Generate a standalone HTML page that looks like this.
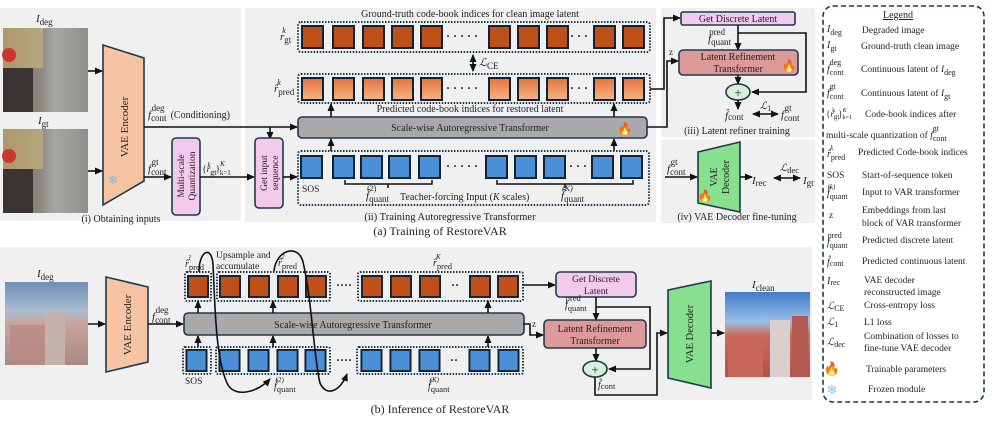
<!DOCTYPE html>
<html><head><meta charset="utf-8"><style>
html,body{margin:0;padding:0;background:#fff}
svg{display:block;font-family:"Liberation Serif",serif}
</style></head><body>
<svg width="997" height="426" viewBox="0 0 997 426" xmlns="http://www.w3.org/2000/svg" font-size="10" fill="#222">
<defs>
<marker id="ah" markerWidth="8" markerHeight="8" refX="7" refY="4" orient="auto" markerUnits="userSpaceOnUse"><path d="M0,0.5 L8,4 L0,7.5 Z" fill="#111"/></marker>
<marker id="ah2" markerWidth="8" markerHeight="8" refX="1" refY="4" orient="auto" markerUnits="userSpaceOnUse"><path d="M8,0.5 L0,4 L8,7.5 Z" fill="#111"/></marker>
<linearGradient id="og" x1="0" y1="0" x2="0" y2="1"><stop offset="0" stop-color="#e3733a"/><stop offset="1" stop-color="#f6b48a"/></linearGradient>
<linearGradient id="street" x1="0" y1="0" x2="1" y2="0"><stop offset="0" stop-color="#6c5a48"/><stop offset="0.45" stop-color="#8d8a84"/><stop offset="0.6" stop-color="#a7a7a2"/><stop offset="1" stop-color="#8e908c"/></linearGradient>
<linearGradient id="city" x1="0" y1="0" x2="0" y2="1"><stop offset="0" stop-color="#6f8fb5"/><stop offset="0.35" stop-color="#a9bcd0"/><stop offset="0.5" stop-color="#c9a49c"/><stop offset="1" stop-color="#a98a80"/></linearGradient>
<linearGradient id="city2" x1="0" y1="0" x2="0" y2="1"><stop offset="0" stop-color="#3f7cc8"/><stop offset="0.35" stop-color="#9cc0e6"/><stop offset="0.5" stop-color="#c96d5e"/><stop offset="1" stop-color="#b4504a"/></linearGradient>
<symbol id="so" viewBox="0 0 23 24"><rect x="1" y="1" width="21" height="22" fill="#c0501a" stroke="#123" stroke-width="2"/></symbol>
<symbol id="sg" viewBox="0 0 23 24"><rect x="1" y="1" width="21" height="22" fill="url(#og)" stroke="#123" stroke-width="2"/></symbol>
<symbol id="sb" viewBox="0 0 23 24"><rect x="1" y="1" width="21" height="22" fill="#4a90d9" stroke="#123" stroke-width="2"/></symbol>
</defs>

<!-- panel backgrounds -->
<rect x="0" y="8" width="241" height="213" fill="#f0f0f0"/>
<rect x="245" y="8" width="411" height="214" fill="#f0f0f0"/>
<rect x="661" y="8" width="154" height="129" fill="#f0f0f0"/>
<rect x="661" y="140" width="154" height="83" fill="#f0f0f0"/>
<rect x="0" y="247" width="812" height="153" fill="#f0f0f0"/>

<!-- Panel (i) -->
<text x="36" y="22" font-style="italic" font-size="11">I<tspan font-style="normal" font-size="9" dy="3">deg</tspan></text>
<rect x="3" y="28" width="85" height="84" fill="url(#street)"/>
<rect x="3" y="28" width="40" height="40" fill="#c9b27a" opacity="0.7"/>
<rect x="3" y="68" width="30" height="44" fill="#3a3532"/>
<circle cx="9" cy="55" r="7" fill="#c33" />
<text x="38" y="124" font-style="italic" font-size="11">I<tspan font-style="normal" font-size="9" dy="3">gt</tspan></text>
<rect x="3" y="129" width="85" height="84" fill="url(#street)"/>
<rect x="3" y="129" width="40" height="40" fill="#c9b27a" opacity="0.7"/>
<rect x="3" y="169" width="30" height="44" fill="#3a3532"/>
<circle cx="9" cy="156" r="7" fill="#c33"/>
<line x1="88" y1="71" x2="102" y2="71" stroke="#111" stroke-width="1.6" marker-end="url(#ah)"/>
<line x1="88" y1="171" x2="102" y2="171" stroke="#111" stroke-width="1.6" marker-end="url(#ah)"/>
<polygon points="103,45 144,58 144,181 103,205" fill="#f6c3a3" stroke="#1e3a4a" stroke-width="1.6"/>
<text transform="translate(128,127) rotate(-90)" text-anchor="middle" font-size="11">VAE Encoder</text>
<text x="113" y="184" font-size="12" fill="#7fb6e6" text-anchor="middle">❄</text>
<text x="148" y="118" font-style="italic" font-size="11">f<tspan font-style="normal" font-size="9" dy="3">cont</tspan><tspan font-style="normal" font-size="9" dx="-15" dy="-10">deg</tspan><tspan font-style="normal" font-size="10" dx="6" dy="7">(Conditioning)</tspan></text>
<line x1="144" y1="127" x2="297" y2="127" stroke="#111" stroke-width="1.6" marker-end="url(#ah)"/>
<line x1="270" y1="127" x2="270" y2="139" stroke="#111" stroke-width="1.6" marker-end="url(#ah)"/>
<text x="148" y="172" font-style="italic" font-size="11">f<tspan font-style="normal" font-size="9" dy="3">cont</tspan><tspan font-style="normal" font-size="9" dx="-15" dy="-10">gt</tspan></text>
<line x1="144" y1="177" x2="171" y2="177" stroke="#111" stroke-width="1.6" marker-end="url(#ah)"/>
<rect x="172" y="138" width="28" height="77" rx="4" fill="#f3c9ee" stroke="#1e3a4a" stroke-width="1.6"/>
<text transform="translate(184,176) rotate(-90)" text-anchor="middle" font-size="9.5">Multi-scale</text>
<text transform="translate(195,176) rotate(-90)" text-anchor="middle" font-size="9.5">Quantization</text>
<text x="202" y="172" font-size="9.5">{<tspan font-style="italic">r</tspan><tspan font-size="8" dy="3">gt</tspan><tspan font-size="7" font-style="italic" dx="-9" dy="-8">k</tspan><tspan dx="5" dy="5">}</tspan><tspan font-size="7" font-style="italic" dy="-6">K</tspan><tspan font-size="7" dx="-5" dy="9">k=1</tspan></text>
<line x1="200" y1="177" x2="254" y2="177" stroke="#111" stroke-width="1.6" marker-end="url(#ah)"/>
<rect x="255" y="138" width="28" height="70" rx="4" fill="#f3c9ee" stroke="#1e3a4a" stroke-width="1.6"/>
<text transform="translate(267,173) rotate(-90)" text-anchor="middle" font-size="9.5">Get input</text>
<text transform="translate(278,173) rotate(-90)" text-anchor="middle" font-size="9.5">sequence</text>
<line x1="283" y1="177" x2="297" y2="177" stroke="#111" stroke-width="1.6" marker-end="url(#ah)"/>
<text x="121" y="222" text-anchor="middle" font-size="10">(i) Obtaining inputs</text>

<!-- Panel (ii) -->
<text x="470" y="17" text-anchor="middle" font-size="10">Ground-truth code-book indices for clean image latent</text>
<rect x="298" y="22" width="352" height="30" rx="3" fill="none" stroke="#1e3a4a" stroke-width="2" stroke-dasharray="1.5,1.5"/>
<g>
<use href="#so" x="301" y="25" width="23" height="24"/><use href="#so" x="332" y="25" width="23" height="24"/><use href="#so" x="362" y="25" width="23" height="24"/><use href="#so" x="391" y="25" width="23" height="24"/><use href="#so" x="420" y="25" width="23" height="24"/>
<use href="#so" x="488" y="25" width="23" height="24"/><use href="#so" x="517" y="25" width="23" height="24"/><use href="#so" x="546" y="25" width="23" height="24"/>
<use href="#so" x="593" y="25" width="23" height="24"/><use href="#so" x="622" y="25" width="23" height="24"/>
</g>
<text x="462" y="40" text-anchor="middle" font-size="12" font-weight="bold">· · · · ·</text>
<text x="579" y="40" text-anchor="middle" font-size="12" font-weight="bold">· · ·</text>
<text x="280" y="40" font-style="italic" font-size="11">r<tspan font-style="normal" font-size="9" dy="3">gt</tspan><tspan font-size="8" dx="-9" dy="-10">k</tspan></text>
<line x1="473" y1="55" x2="473" y2="71" stroke="#111" stroke-width="1.6" marker-end="url(#ah)" marker-start="url(#ah2)"/>
<text x="479" y="66" font-style="italic" font-size="11">ℒ<tspan font-style="normal" font-size="9" dy="3">CE</tspan></text>
<rect x="298" y="74" width="352" height="29" rx="3" fill="none" stroke="#1e3a4a" stroke-width="2" stroke-dasharray="1.5,1.5"/>
<g>
<use href="#sg" x="301" y="77" width="23" height="24"/><use href="#sg" x="332" y="77" width="23" height="24"/><use href="#sg" x="362" y="77" width="23" height="24"/><use href="#sg" x="391" y="77" width="23" height="24"/><use href="#sg" x="420" y="77" width="23" height="24"/>
<use href="#sg" x="488" y="77" width="23" height="24"/><use href="#sg" x="517" y="77" width="23" height="24"/><use href="#sg" x="546" y="77" width="23" height="24"/>
<use href="#sg" x="593" y="77" width="23" height="24"/><use href="#sg" x="622" y="77" width="23" height="24"/>
</g>
<text x="462" y="92" text-anchor="middle" font-size="12" font-weight="bold">· · · · ·</text>
<text x="579" y="92" text-anchor="middle" font-size="12" font-weight="bold">· · ·</text>
<text x="274" y="92" font-style="italic" font-size="11">r̂<tspan font-style="normal" font-size="9" dy="3">pred</tspan><tspan font-size="8" dx="-17" dy="-10">k</tspan></text>
<text x="470" y="112" text-anchor="middle" font-size="10">Predicted code-book indices for restored latent</text>
<rect x="298" y="117" width="349" height="21" rx="4" fill="#a9a9a9" stroke="#1e3a4a" stroke-width="1.6"/>
<text x="470" y="131" text-anchor="middle" font-size="10">Scale-wise Autoregressive Transformer</text>
<text x="625" y="133" text-anchor="middle" font-size="12">🔥</text>
<line x1="331" y1="117" x2="331" y2="104" stroke="#111" stroke-width="1.6" marker-end="url(#ah)"/>
<line x1="614" y1="117" x2="614" y2="104" stroke="#111" stroke-width="1.6" marker-end="url(#ah)"/>
<line x1="331" y1="151" x2="331" y2="139" stroke="#111" stroke-width="1.6" marker-end="url(#ah)"/>
<line x1="614" y1="151" x2="614" y2="139" stroke="#111" stroke-width="1.6" marker-end="url(#ah)"/>
<rect x="298" y="151" width="351" height="54" rx="3" fill="none" stroke="#1e3a4a" stroke-width="2" stroke-dasharray="1.5,1.5"/>
<g>
<use href="#sb" x="300" y="155" width="23" height="24"/><use href="#sb" x="332" y="155" width="23" height="24"/><use href="#sb" x="360" y="155" width="23" height="24"/><use href="#sb" x="388" y="155" width="23" height="24"/><use href="#sb" x="418" y="155" width="23" height="24"/>
<use href="#sb" x="485" y="155" width="23" height="24"/><use href="#sb" x="514" y="155" width="23" height="24"/><use href="#sb" x="543" y="155" width="23" height="24"/>
<use href="#sb" x="591" y="155" width="23" height="24"/><use href="#sb" x="620" y="155" width="23" height="24"/>
</g>
<text x="462" y="170" text-anchor="middle" font-size="12" font-weight="bold">· · · · ·</text>
<text x="578" y="170" text-anchor="middle" font-size="12" font-weight="bold">· · ·</text>
<text x="302" y="192" font-size="9.5">SOS</text>
<path d="M345,180 V184 H432 V180 M388,184 V188" fill="none" stroke="#111" stroke-width="1.5"/>
<path d="M497,180 V184 H633 V180 M565,184 V188" fill="none" stroke="#111" stroke-width="1.5"/>
<text x="366" y="199" font-style="italic" font-size="11">f̂<tspan font-style="normal" font-size="9" dy="3">quant</tspan><tspan font-style="normal" font-size="8" dx="-22" dy="-11">(2)</tspan></text>
<text x="400" y="200" font-size="10">Teacher-forcing Input (<tspan font-style="italic">K</tspan> scales)</text>
<text x="561" y="199" font-style="italic" font-size="11">f̂<tspan font-style="normal" font-size="9" dy="3">quant</tspan><tspan font-style="italic" font-size="8" dx="-22" dy="-11">(K)</tspan></text>
<text x="450" y="220" text-anchor="middle" font-size="10.5">(ii) Training Autoregressive Transformer</text>
<text x="440" y="235" text-anchor="middle" font-size="12">(a) Training of RestoreVAR</text>

<!-- Panel (iii) -->
<polyline points="650,89 664,89 664,18 680,18" fill="none" stroke="#111" stroke-width="1.6" marker-end="url(#ah)"/>
<polyline points="647,127 667,127 667,61 678,61" fill="none" stroke="#111" stroke-width="1.6" marker-end="url(#ah)"/>
<text x="669" y="55" font-size="9">z</text>
<rect x="681" y="12" width="114" height="13" rx="2" fill="#f3c9ee" stroke="#1e3a4a" stroke-width="1.6"/>
<text x="738" y="22" text-anchor="middle" font-size="10">Get Discrete Latent</text>
<text x="708" y="42" font-style="italic" font-size="11">f<tspan font-style="normal" font-size="9" dy="3">quant</tspan><tspan font-style="normal" font-size="9" dx="-22" dy="-10">pred</tspan></text>
<line x1="738" y1="25" x2="738" y2="50" stroke="#111" stroke-width="1.6" marker-end="url(#ah)"/>
<polyline points="738,33 806,33 806,92 752,92" fill="none" stroke="#111" stroke-width="1.6" marker-end="url(#ah)"/>
<rect x="679" y="50" width="119" height="25" rx="4" fill="#de9a9a" stroke="#1e3a4a" stroke-width="1.6"/>
<text x="738" y="60" text-anchor="middle" font-size="10">Latent Refinement</text>
<text x="738" y="72" text-anchor="middle" font-size="10">Transformer</text>
<text x="789" y="70" text-anchor="middle" font-size="12">🔥</text>
<line x1="738" y1="75" x2="738" y2="84" stroke="#111" stroke-width="1.6" marker-end="url(#ah)"/>
<ellipse cx="738" cy="92" rx="12" ry="8" fill="#d8f0d8" stroke="#1e3a4a" stroke-width="1.6"/>
<text x="738" y="97" text-anchor="middle" font-size="13">+</text>
<line x1="738" y1="100" x2="738" y2="109" stroke="#111" stroke-width="1.6" marker-end="url(#ah)"/>
<text x="725" y="119" font-style="italic" font-size="11">f̂<tspan font-style="normal" font-size="9" dy="1">cont</tspan></text>
<line x1="753" y1="114" x2="778" y2="114" stroke="#111" stroke-width="1.6" marker-end="url(#ah)" marker-start="url(#ah2)"/>
<text x="760" y="109" font-style="italic" font-size="10">ℒ<tspan font-style="normal" font-size="8" dy="2">1</tspan></text>
<text x="781" y="118" font-style="italic" font-size="11">f<tspan font-style="normal" font-size="9" dy="3">cont</tspan><tspan font-style="normal" font-size="9" dx="-15" dy="-10">gt</tspan></text>
<text x="737" y="134" text-anchor="middle" font-size="10">(iii) Latent refiner training</text>

<!-- Panel (iv) -->
<text x="667" y="172" font-style="italic" font-size="11">f<tspan font-style="normal" font-size="9" dy="3">cont</tspan><tspan font-style="normal" font-size="9" dx="-15" dy="-10">gt</tspan></text>
<line x1="665" y1="177" x2="697" y2="177" stroke="#111" stroke-width="1.6" marker-end="url(#ah)"/>
<polygon points="698,152 740,142 740,212 698,203" fill="#86e08e" stroke="#1e3a4a" stroke-width="1.6"/>
<text transform="translate(717,177) rotate(-90)" text-anchor="middle" font-size="10">VAE</text>
<text transform="translate(729,177) rotate(-90)" text-anchor="middle" font-size="10">Decoder</text>
<text x="705" y="200" text-anchor="middle" font-size="12">🔥</text>
<line x1="740" y1="177" x2="752" y2="177" stroke="#111" stroke-width="1.6" marker-end="url(#ah)"/>
<text x="752" y="184" font-style="italic" font-size="11">I<tspan font-style="normal" font-size="9" dy="2">rec</tspan></text>
<line x1="774" y1="178" x2="800" y2="178" stroke="#111" stroke-width="1.6" marker-end="url(#ah)" marker-start="url(#ah2)"/>
<text x="780" y="171" font-style="italic" font-size="10">ℒ<tspan font-style="normal" font-size="8.5" dy="2">dec</tspan></text>
<text x="803" y="184" font-style="italic" font-size="11">I<tspan font-style="normal" font-size="9" dy="2">gt</tspan></text>
<text x="737" y="220" text-anchor="middle" font-size="10">(iv) VAE Decoder fine-tuning</text>

<!-- Legend -->
<rect x="823" y="6" width="161" height="396" rx="10" fill="#fff" stroke="#1e3a4a" stroke-width="1.6" stroke-dasharray="5,3"/>
<text x="898" y="18" text-anchor="middle" font-size="10" text-decoration="underline">Legend</text>
<g font-size="9.5">
<text x="827" y="32" font-style="italic" font-size="10">I<tspan font-style="normal" font-size="8" dy="3">deg</tspan></text><text x="862" y="33">Degraded image</text>
<text x="827" y="48" font-style="italic" font-size="10">I<tspan font-style="normal" font-size="8" dy="3">gt</tspan></text><text x="861" y="49">Ground-truth clean image</text>
<text x="827" y="72" font-style="italic" font-size="10">f<tspan font-style="normal" font-size="8" dy="3">cont</tspan><tspan font-style="normal" font-size="8" dx="-14" dy="-10">deg</tspan></text><text x="861" y="72">Continuous latent of <tspan font-style="italic">I</tspan><tspan font-size="8" dy="3">deg</tspan></text>
<text x="827" y="96" font-style="italic" font-size="10">f<tspan font-style="normal" font-size="8" dy="3">cont</tspan><tspan font-style="normal" font-size="8" dx="-14" dy="-10">gt</tspan></text><text x="861" y="96">Continuous latent of <tspan font-style="italic">I</tspan><tspan font-size="8" dy="3">gt</tspan></text>
<text x="826" y="117" font-size="9">{<tspan font-style="italic">r</tspan><tspan font-size="7" dy="2">gt</tspan><tspan font-size="6" dx="-7" dy="-7">k</tspan><tspan dx="3" dy="5">}</tspan><tspan font-size="6" font-style="italic" dy="-5">K</tspan><tspan font-size="6" dx="-4" dy="7">k=1</tspan></text><text x="865" y="117">Code-book indices after</text>
<text x="826" y="138">multi-scale quantization of <tspan font-style="italic">f</tspan><tspan font-size="8" dy="3">cont</tspan><tspan font-size="8" dx="-14" dy="-10">gt</tspan></text>
<text x="827" y="157" font-style="italic" font-size="10">r̂<tspan font-style="normal" font-size="8" dy="3">pred</tspan><tspan font-size="7" dx="-15" dy="-10">k</tspan></text><text x="858" y="155">Predicted Code-book indices</text>
<text x="827" y="178">SOS</text><text x="862" y="178">Start-of-sequence token</text>
<text x="827" y="196" font-style="italic" font-size="10">f̂<tspan font-style="normal" font-size="8" dy="3">quant</tspan><tspan font-style="italic" font-size="7" dx="-20" dy="-10">(k)</tspan></text><text x="862" y="195">Input to VAR transformer</text>
<text x="829" y="218">z</text><text x="862" y="213">Embeddings from last</text><text x="862" y="226">block of VAR transformer</text>
<text x="827" y="245" font-style="italic" font-size="10">f<tspan font-style="normal" font-size="8" dy="3">quant</tspan><tspan font-style="normal" font-size="8" dx="-20" dy="-10">pred</tspan></text><text x="862" y="243">Predicted discrete latent</text>
<text x="827" y="265" font-style="italic" font-size="10">f̂<tspan font-style="normal" font-size="8" dy="1">cont</tspan></text><text x="862" y="264">Predicted continuous latent</text>
<text x="827" y="284" font-style="italic" font-size="10">I<tspan font-style="normal" font-size="8" dy="1">rec</tspan></text><text x="864" y="283">VAE decoder</text><text x="864" y="295">reconstructed image</text>
<text x="827" y="309" font-style="italic" font-size="10">ℒ<tspan font-style="normal" font-size="8" dy="2">CE</tspan></text><text x="864" y="308">Cross-entropy loss</text>
<text x="827" y="325" font-style="italic" font-size="10">ℒ<tspan font-style="normal" font-size="8" dy="2">1</tspan></text><text x="864" y="325">L1 loss</text>
<text x="827" y="345" font-style="italic" font-size="10">ℒ<tspan font-style="normal" font-size="8" dy="2">dec</tspan></text><text x="864" y="339">Combination of losses to</text><text x="864" y="351">fine-tune VAE decoder</text>
<text x="832" y="373" text-anchor="middle" font-size="13">🔥</text><text x="866" y="372">Trainable parameters</text>
<text x="832" y="394" text-anchor="middle" font-size="13" fill="#8cc3ee">❄</text><text x="868" y="392">Frozen module</text>
</g>

<!-- Panel (b) -->
<text x="37" y="277" font-style="italic" font-size="11">I<tspan font-style="normal" font-size="9" dy="3">deg</tspan></text>
<rect x="5" y="282" width="83" height="83" fill="url(#city)"/>
<rect x="10" y="325" width="40" height="40" fill="#b98a85" opacity="0.8"/>
<rect x="45" y="312" width="20" height="53" fill="#c7b1ad"/>
<line x1="88" y1="324" x2="105" y2="324" stroke="#111" stroke-width="1.6" marker-end="url(#ah)"/>
<polygon points="106,277 148,287 148,362 106,372" fill="#f6c3a3" stroke="#1e3a4a" stroke-width="1.6"/>
<text transform="translate(131,325) rotate(-90)" text-anchor="middle" font-size="11">VAE Encoder</text>
<text x="152" y="320" font-style="italic" font-size="11">f<tspan font-style="normal" font-size="9" dy="3">cont</tspan><tspan font-style="normal" font-size="9" dx="-15" dy="-10">deg</tspan></text>
<line x1="148" y1="324" x2="183" y2="324" stroke="#111" stroke-width="1.6" marker-end="url(#ah)"/>
<rect x="184" y="313" width="340" height="22" rx="4" fill="#a9a9a9" stroke="#1e3a4a" stroke-width="1.6"/>
<text x="353" y="328" text-anchor="middle" font-size="10">Scale-wise Autoregressive Transformer</text>
<!-- top orange groups -->
<rect x="185" y="272" width="26" height="29" rx="2" fill="none" stroke="#1e3a4a" stroke-width="2" stroke-dasharray="1.5,1.5"/>
<rect x="217" y="272" width="113" height="29" rx="2" fill="none" stroke="#1e3a4a" stroke-width="2" stroke-dasharray="1.5,1.5"/>
<rect x="358" y="272" width="165" height="29" rx="2" fill="none" stroke="#1e3a4a" stroke-width="2" stroke-dasharray="1.5,1.5"/>
<use href="#so" x="187" y="274" width="22" height="25"/>
<use href="#so" x="219" y="274" width="22" height="25"/><use href="#so" x="248" y="274" width="22" height="25"/><use href="#so" x="277" y="274" width="22" height="25"/><use href="#so" x="305" y="274" width="22" height="25"/>
<use href="#so" x="361" y="274" width="22" height="25"/><use href="#so" x="390" y="274" width="22" height="25"/><use href="#so" x="419" y="274" width="22" height="25"/><use href="#so" x="469" y="274" width="22" height="25"/><use href="#so" x="497" y="274" width="22" height="25"/>
<text x="344" y="289" text-anchor="middle" font-size="12" font-weight="bold">····</text>
<text x="455" y="289" text-anchor="middle" font-size="12" font-weight="bold">··</text>
<!-- bottom blue groups -->
<rect x="183" y="347" width="28" height="27" rx="2" fill="none" stroke="#1e3a4a" stroke-width="2" stroke-dasharray="1.5,1.5"/>
<rect x="216" y="347" width="114" height="27" rx="2" fill="none" stroke="#1e3a4a" stroke-width="2" stroke-dasharray="1.5,1.5"/>
<rect x="357" y="347" width="166" height="27" rx="2" fill="none" stroke="#1e3a4a" stroke-width="2" stroke-dasharray="1.5,1.5"/>
<use href="#sb" x="185" y="349" width="23" height="23"/>
<use href="#sb" x="218" y="349" width="23" height="23"/><use href="#sb" x="247" y="349" width="23" height="23"/><use href="#sb" x="276" y="349" width="23" height="23"/><use href="#sb" x="304" y="349" width="23" height="23"/>
<use href="#sb" x="360" y="349" width="23" height="23"/><use href="#sb" x="389" y="349" width="23" height="23"/><use href="#sb" x="418" y="349" width="23" height="23"/><use href="#sb" x="468" y="349" width="23" height="23"/><use href="#sb" x="497" y="349" width="23" height="23"/>
<text x="344" y="364" text-anchor="middle" font-size="12" font-weight="bold">····</text>
<text x="454" y="364" text-anchor="middle" font-size="12" font-weight="bold">··</text>
<g stroke="#111" stroke-width="1.6" marker-end="url(#ah)">
<line x1="198" y1="313" x2="198" y2="301"/><line x1="273" y1="313" x2="273" y2="301"/><line x1="488" y1="313" x2="488" y2="301"/>
<line x1="198" y1="347" x2="198" y2="336"/><line x1="273" y1="347" x2="273" y2="336"/><line x1="488" y1="347" x2="488" y2="336"/>
</g>
<text x="185" y="267" font-style="italic" font-size="10">r̂<tspan font-style="normal" font-size="8.5" dy="3">pred</tspan><tspan font-size="7" dx="-16" dy="-10">1</tspan></text>
<text x="216" y="258" font-size="9.5">Upsample and</text>
<text x="216" y="269" font-size="9.5">accumulate</text>
<text x="278" y="266" font-style="italic" font-size="10">r̂<tspan font-style="normal" font-size="8.5" dy="3">pred</tspan><tspan font-size="7" dx="-16" dy="-10">2</tspan></text>
<text x="433" y="266" font-style="italic" font-size="10">r̂<tspan font-style="normal" font-size="8.5" dy="3">pred</tspan><tspan font-size="7" font-style="italic" dx="-16" dy="-10">K</tspan></text>
<text x="185" y="384" font-size="9.5">SOS</text>
<text x="274" y="389" font-style="italic" font-size="10">f̂<tspan font-style="normal" font-size="8.5" dy="3">quant</tspan><tspan font-style="normal" font-size="7" dx="-20" dy="-10">(2)</tspan></text>
<text x="428" y="389" font-style="italic" font-size="10">f̂<tspan font-style="normal" font-size="8.5" dy="3">quant</tspan><tspan font-style="italic" font-size="7" dx="-20" dy="-10">(K)</tspan></text>
<path d="M199,272 C199,250 212,245 213,265 C215,300 215,360 228,385 C236,398 258,392 270,379" fill="none" stroke="#111" stroke-width="1.6" marker-end="url(#ah)"/>
<path d="M274,271 C276,250 298,243 303,262 C312,300 314,360 320,383 C326,397 340,392 347,374" fill="none" stroke="#111" stroke-width="1.6" marker-end="url(#ah)"/>
<!-- right part -->
<line x1="522" y1="285" x2="555" y2="285" stroke="#111" stroke-width="1.6" marker-end="url(#ah)"/>
<rect x="556" y="272" width="80" height="25" rx="4" fill="#f3c9ee" stroke="#1e3a4a" stroke-width="1.6"/>
<text x="596" y="282" text-anchor="middle" font-size="9.5">Get Discrete</text>
<text x="596" y="294" text-anchor="middle" font-size="9.5">Latent</text>
<text x="565" y="308" font-style="italic" font-size="10">f<tspan font-style="normal" font-size="8.5" dy="3">quant</tspan><tspan font-style="normal" font-size="8.5" dx="-21" dy="-10">pred</tspan></text>
<line x1="596" y1="297" x2="596" y2="320" stroke="#111" stroke-width="1.6" marker-end="url(#ah)"/>
<polyline points="596,307 650,307 650,369 609,369" fill="none" stroke="#111" stroke-width="1.6" marker-end="url(#ah)"/>
<polyline points="523,324 530,324 530,335 543,335" fill="none" stroke="#111" stroke-width="1.6" marker-end="url(#ah)"/>
<text x="532" y="327" font-size="9">z</text>
<rect x="544" y="320" width="102" height="28" rx="4" fill="#de9a9a" stroke="#1e3a4a" stroke-width="1.6"/>
<text x="595" y="332" text-anchor="middle" font-size="10">Latent Refinement</text>
<text x="595" y="344" text-anchor="middle" font-size="10">Transformer</text>
<line x1="596" y1="348" x2="596" y2="361" stroke="#111" stroke-width="1.6" marker-end="url(#ah)"/>
<ellipse cx="595" cy="369" rx="12" ry="8" fill="#d8f0d8" stroke="#1e3a4a" stroke-width="1.6"/>
<text x="595" y="374" text-anchor="middle" font-size="13">+</text>
<text x="598" y="388" font-style="italic" font-size="10">f̂<tspan font-style="normal" font-size="8.5" dy="1">cont</tspan></text>
<polyline points="595,377 595,395 657,395 657,333 667,333" fill="none" stroke="#111" stroke-width="1.6" marker-end="url(#ah)"/>
<polygon points="668,290 711,281 711,388 668,378" fill="#86e08e" stroke="#1e3a4a" stroke-width="1.6"/>
<text transform="translate(693,334) rotate(-90)" text-anchor="middle" font-size="10.5">VAE Decoder</text>
<line x1="711" y1="333" x2="724" y2="333" stroke="#111" stroke-width="1.6" marker-end="url(#ah)"/>
<text x="752" y="288" font-style="italic" font-size="11">I<tspan font-style="normal" font-size="9" dy="3">clean</tspan></text>
<rect x="725" y="292" width="85" height="85" fill="url(#city2)"/>
<rect x="728" y="335" width="35" height="42" fill="#c8675c"/>
<rect x="770" y="320" width="20" height="57" fill="#d9cfcc"/>
<rect x="792" y="316" width="16" height="61" fill="#b55a52"/>
<text x="440" y="413" text-anchor="middle" font-size="12">(b) Inference of RestoreVAR</text>
</svg>
</body></html>
